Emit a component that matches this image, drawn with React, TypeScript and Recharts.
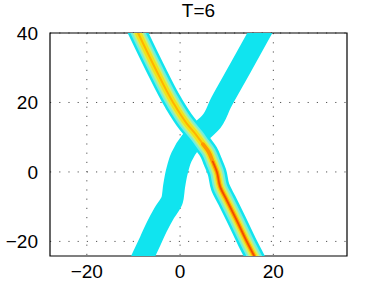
import { ScatterChart, Scatter, XAxis, YAxis, CartesianGrid, ReferenceArea } from 'recharts'

// axis ranges and ticks
const xDomain = [-27.9, 35.8]
const yDomain = [-24.2, 40]
const xTicks = [-20, 0, 20]
const yTicks = [-20, 0, 20, 40]

// centre line of the bright soliton (top-left to bottom-right)
const bandAY = [-24.2, -20, -13.8, -8.1, -4.3, 0, 3, 5.8, 8, 10.4, 14, 20, 30.3, 40]
const bandAX = [15.9, 14.3, 12.1, 10.0, 8.6, 7.9, 7.0, 6.1, 4.9, 3.6, 1.4, -1.5, -5.5, -9.0]

// centre line of the weak soliton (bottom-left to top-right)
const bandBY = [-24.2, -19.9, -15.8, -11.8, -8.1, -4.3, 0, 4.3, 8.5, 12, 14, 20, 30.3, 40]
const bandBX = [-7.9, -6.4, -5.0, -3.4, -1.7, -1.3, -0.7, 0.3, 2.2, 4.8, 6.4, 8.8, 13.1, 17.1]

// the orange and red core only show below these heights
const orangeFromY = 8
const redFromY = 3

const toPoints = (xs: number[], ys: number[]) => ys.map((y, i) => ({ x: xs[i], y }))

const bandA = toPoints(bandAX, bandAY)
const bandB = toPoints(bandBX, bandBY)
const bandAOrange = bandA.filter((p) => p.y <= orangeFromY)
const bandARed = bandA.filter((p) => p.y <= redFromY)

const noDot = () => <g />

const minus = (v: number) => String(v).replace('-', '\u2212')

const band = (
  key: string,
  data: { x: number; y: number }[],
  stroke: string,
  width: number,
  cap: 'square' | 'round' = 'square',
) => (
  <Scatter
    key={key}
    data={data}
    shape={noDot}
    line={{ stroke, strokeWidth: width, strokeLinejoin: 'round', strokeLinecap: cap }}
    lineJointType="monotoneY"
    isAnimationActive={false}
    legendType="none"
  />
)

export default function App() {
  const font = { fontFamily: '"Liberation Sans", Arial, sans-serif', fontSize: 19, fill: '#000' }
  return (
    <div style={{ position: 'absolute', left: 0, top: 0, width: 384, height: 288, background: '#fff' }}>
      <div
        style={{
          position: 'absolute',
          left: 50,
          width: 297,
          top: 0,
          textAlign: 'center',
          fontFamily: '"Liberation Sans", Arial, sans-serif',
          fontSize: 19,
        }}
      >
        T=6
      </div>
      <ScatterChart width={384} height={288} margin={{ top: 33, right: 37, bottom: 2, left: 6 }}>
        <CartesianGrid
          stroke="#555"
          strokeDasharray="1.2 8"
          horizontalValues={yTicks}
          verticalValues={xTicks}
        />
        {band('bC', bandB, '#10e4ef', 22)}
        {band('aC', bandA, '#10e4ef', 19)}
        {band('a1', bandA, '#74efdc', 14)}
        {band('a2', bandA, '#c4f07c', 10)}
        {band('a3', bandA, '#f4e418', 6.5)}
        {band('a4', bandA, '#ffb400', 2)}
        {band('a5', bandAOrange, '#ff9600', 3.8, 'round')}
        {band('a6', bandARed, '#f04a00', 1.6, 'round')}
        <ReferenceArea
          x1={xDomain[0]}
          x2={xDomain[1]}
          y1={yDomain[0]}
          y2={yDomain[1]}
          fill="none"
          stroke="#000"
          strokeWidth={1.2}
          fillOpacity={0}
        />
        <XAxis
          type="number"
          dataKey="x"
          domain={xDomain}
          ticks={xTicks}
          allowDataOverflow
          height={30}
          tickLine={false}
          axisLine={false}
          tick={font}
          tickFormatter={minus}
          tickMargin={3}
        />
        <YAxis
          type="number"
          dataKey="y"
          domain={yDomain}
          ticks={yTicks}
          allowDataOverflow
          width={44}
          tickLine={false}
          axisLine={false}
          tick={font}
          tickFormatter={minus}
          tickMargin={6}
        />
      </ScatterChart>
    </div>
  )
}
